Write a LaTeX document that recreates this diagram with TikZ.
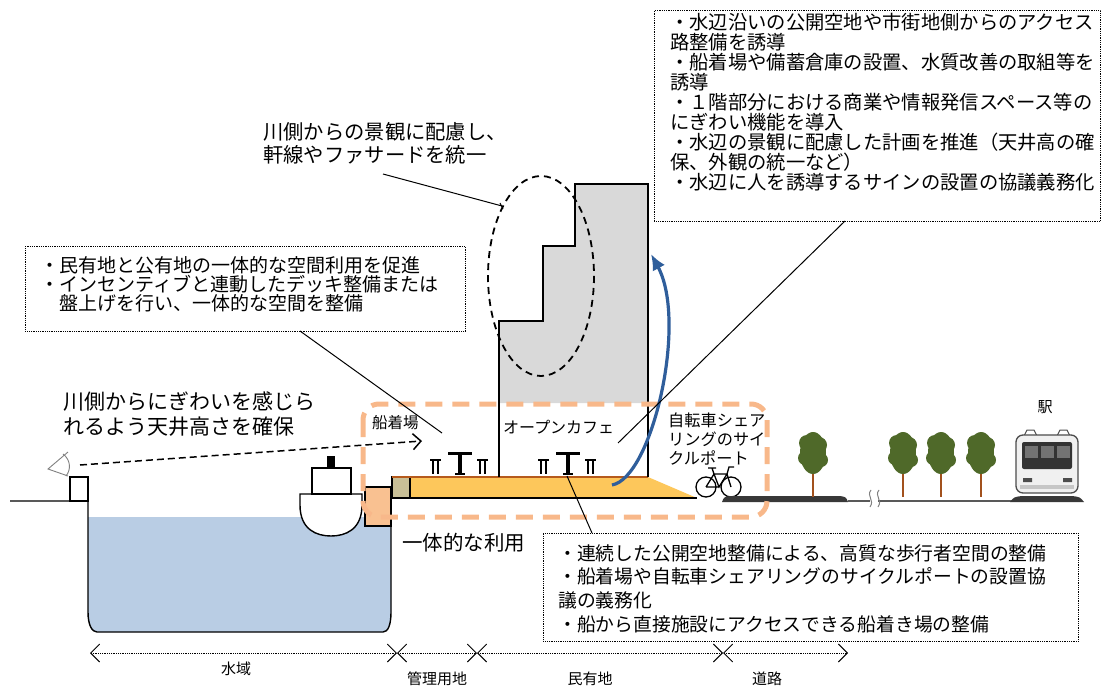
\documentclass[tikz,border=0pt]{standalone}
\usepackage{fontspec}
\setmainfont{Noto Sans CJK JP}
\usepackage{xcolor}
\usepackage{tikz}
\usetikzlibrary{arrows.meta}

\definecolor{watercol}{HTML}{B9CDE4}
\definecolor{peach}{HTML}{F9C191}
\definecolor{dashpeach}{HTML}{F8B88A}
\definecolor{deckyel}{HTML}{FDC75B}
\definecolor{decktan}{HTML}{C9C097}
\definecolor{deckrim}{HTML}{B65A1C}
\definecolor{bldgray}{HTML}{D9D9D9}
\definecolor{arcblue}{HTML}{2F5E9B}
\definecolor{leafgreen}{HTML}{4F6929}
\definecolor{trunkbrown}{HTML}{A2511D}
\definecolor{roadgray}{HTML}{383838}

\tikzset{
  note/.style={draw, densely dotted, line width=0.8pt, inner sep=0pt, anchor=north west},
  txt/.style={inner sep=0pt, anchor=west, align=left},
  leader/.style={line width=1pt},
  outline/.style={line width=1.4pt},
  barb/.tip={Straight Barb[length=9pt,width=18pt,line width=0.9pt]},
  dimline/.style={densely dotted, line width=0.8pt, barb-barb},
}

\begin{document}
\begin{tikzpicture}[x=1pt,y=-1pt]
\useasboundingbox (0,0) rectangle (1101,688);

% water basin
\fill[watercol] (88,517) -- (88,612) .. controls (88,625) and (92,632) .. (97,632)
  -- (383,632) .. controls (388,632) and (391,625) .. (391,612) -- (391,517) -- cycle;
\draw[outline] (10,501) -- (88,501) -- (88,612) .. controls (88,625) and (92,632) .. (97,632)
  -- (383,632) .. controls (388,632) and (391,625) .. (391,612) -- (391,526);
\draw[outline,fill=white] (70,477) rectangle (88,501);

% eye on the far bank
\draw[gray,line width=0.9pt] (68,452) -- (48,469) -- (68,476);
\draw[gray,line width=0.9pt] (63,454) .. controls (71,460) and (71,470) .. (66,476);

% boat
\draw[outline,fill=white] (300,494) -- (362,494) -- (362,505)
  .. controls (362,530) and (345,536) .. (331,536)
  .. controls (317,536) and (300,530) .. (300,505) -- cycle;
\draw[outline,fill=white] (312,468) rectangle (351,494);
\fill[black] (327,456) rectangle (335,468);
\draw[outline,fill=peach] (365,487) rectangle (391,526);

% deck
\fill[deckyel] (410,477) -- (648,477) -- (697,498) -- (410,498) -- cycle;
\draw[line width=1.2pt,fill=decktan] (392,477) rectangle (410,498);
\draw[line width=1.2pt] (392,498) -- (697,498);
\draw[deckrim,line width=2.5pt] (392,477) -- (648,477);

% building
\fill[bldgray] (499,403) -- (499,321) -- (543,321) -- (543,246) -- (575,246)
  -- (575,184) -- (648,184) -- (648,403) -- cycle;
\draw[outline] (499,477) -- (499,321) -- (543,321) -- (543,246) -- (575,246)
  -- (575,184) -- (648,184) -- (648,477);
\draw[dashed,dash pattern=on 7pt off 5pt,line width=1.8pt] (541,276) ellipse [x radius=53, y radius=100];

% tables and chairs
\foreach \cx in {430,538} {
  \draw[line width=2.2pt] (\cx,460) -- (\cx+11,460);
  \draw[line width=1.8pt] (\cx+3,460) -- (\cx+3,474) (\cx+8,460) -- (\cx+8,474);
  \draw[line width=3pt] (\cx+18,453) -- (\cx+42,453);
  \draw[line width=3.2pt] (\cx+30,453) -- (\cx+30,474);
  \draw[line width=2pt] (\cx+25,474) -- (\cx+35,474);
  \draw[line width=2.2pt] (\cx+47,460) -- (\cx+58,460);
  \draw[line width=1.8pt] (\cx+50,460) -- (\cx+50,474) (\cx+55,460) -- (\cx+55,474);
}

% bicycle
\draw[line width=1.3pt] (706,487) circle [radius=10] (731,487) circle [radius=10];
\draw[line width=1.3pt] (706,487) -- (714,474) -- (727,474) -- (731,487)
  (714,474) -- (719,487) -- (727,474) (706,487) -- (719,487)
  (714,474) -- (712,468) (708,468) -- (716,468)
  (727,474) -- (729,467) -- (734,467);

% ground on the town side
\fill[roadgray] (722,502) .. controls (724,497) .. (730,496) -- (840,496)
  .. controls (846,497) .. (848,502) -- cycle;
\draw[gray!70!black,line width=1.2pt] (848,501) -- (870,501) (878,501) -- (1012,501);
\draw[gray,line width=1pt] (871,490) .. controls (866,496) and (875,500) .. (870,507)
  (879,490) .. controls (874,496) and (883,500) .. (878,507);
\fill[roadgray] (1010,502) .. controls (1014,497) .. (1022,496) -- (1072,496)
  .. controls (1080,497) .. (1084,502) -- cycle;

% trees
\foreach \tx in {813,903,941,981} {
  \draw[trunkbrown,line width=2.6pt] (\tx,470) -- (\tx,497);
  \fill[leafgreen] (\tx,453) ellipse [x radius=13, y radius=21];
  \fill[leafgreen] (\tx-6,443) circle [radius=8] (\tx+6,445) circle [radius=8]
    (\tx-8,458) circle [radius=7] (\tx+8,460) circle [radius=7];
}

% train
\draw[gray!60!black,line width=1pt] (1024,436) -- (1027,430) -- (1034,430) -- (1037,436)
  (1057,436) -- (1060,430) -- (1067,430) -- (1070,436);
\draw[fill=gray!12,draw=gray!60!black,line width=1.3pt,rounded corners=7pt] (1016,435) rectangle (1078,493);
\fill[black!80,rounded corners=2pt] (1022,442) rectangle (1072,469);
\foreach \px in {1025,1041,1057} \fill[black!55] (\px,446) rectangle (\px+13,458);
\fill[black!70] (1023,478) rectangle (1032,482) (1063,478) rectangle (1072,482);
\fill[gray!45] (1020,485) rectangle (1074,489);

% site boundary of shared use
\draw[dashpeach,line width=5pt,dash pattern=on 17pt off 10pt,rounded corners=16pt] (363,404) rectangle (767,517);

% route into the building
\draw[arcblue,line width=3.2pt,-{Latex[length=16pt,width=14pt]}] (612,485) .. controls (652,478) and (688,322) .. (651,254);

% sight line
\draw[dashed,dash pattern=on 7pt off 4pt,line width=1.5pt,-{Straight Barb[length=8pt,width=16pt,line width=1.5pt]}] (80,465) -- (422,441);

% notes
\node[note, minimum width=446pt, minimum height=211pt] (rbox) at (654,10) {};
\node[txt, font=\fontsize{19.3}{20}\selectfont] (rtext) at (670,102) {・水辺沿いの公開空地や市街地側からのアクセス\\路整備を誘導\\・船着場や備蓄倉庫の設置、水質改善の取組等を\\誘導\\・１階部分における商業や情報発信スペース等の\\にぎわい機能を導入\\・水辺の景観に配慮した計画を推進（天井高の確\\保、外観の統一など）\\・水辺に人を誘導するサインの設置の協議義務化};

\node[note, minimum width=440pt, minimum height=85pt] (lbox) at (25,246) {};
\node[txt, font=\fontsize{19}{19}\selectfont] (ltext) at (40,284) {・民有地と公有地の一体的な空間利用を促進\\・インセンティブと連動したデッキ整備または\\　盤上げを行い、一体的な空間を整備};

\node[note, minimum width=535pt, minimum height=108pt] (bbox) at (543,533) {};
\node[txt, font=\fontsize{18.8}{23.7}\selectfont] (btext) at (558,588.5) {・連続した公開空地整備による、高質な歩行者空間の整備\\・船着場や自転車シェアリングのサイクルポートの設置協\\議の義務化\\・船から直接施設にアクセスできる船着き場の整備};

% labels
\node[txt, font=\fontsize{20.3}{23}\selectfont] (viewtxt) at (263,143.5) {川側からの景観に配慮し、\\軒線やファサードを統一};
\node[txt, font=\fontsize{21}{25}\selectfont] (ceiltxt) at (63,414.5) {川側からにぎわいを感じら\\れるよう天井高さを確保};
\node[txt, font=\fontsize{15.5}{18}\selectfont] (pier) at (372,423) {船着場};
\node[txt, font=\fontsize{16}{18}\selectfont] (cafe) at (503,427) {オープンカフェ};
\node[txt, font=\fontsize{16.2}{19}\selectfont] (cycle) at (668,439) {自転車シェア\\リングのサイ\\クルポート};
\node[txt, font=\fontsize{20.5}{23}\selectfont] (jointuse) at (402,543) {一体的な利用};
\node[font=\fontsize{15}{18}\selectfont, inner sep=0pt] (station) at (1045,407) {駅};

% leader lines
\coordinate (viewfoot) at (383,174);
\coordinate (viewtip) at (502,206);
\coordinate (lfoot) at (300,331);
\coordinate (ltip) at (442,433);
\coordinate (rfoot) at (845,221);
\coordinate (rtip) at (618,443);
\coordinate (bfoot) at (592,533);
\coordinate (btip) at (567,476);
\draw[leader] (viewfoot) -- (viewtip);
\draw[leader] (viewtip) ++(-2,-3) -- ++(3,6);
\draw[leader] (lfoot) -- (ltip);
\draw[leader] (rfoot) -- (rtip);
\draw[leader] (bfoot) -- (btip);

% zones along the section
\coordinate (d0) at (90,653);
\coordinate (d1) at (397,653);
\coordinate (d2) at (477,653);
\coordinate (d3) at (723,653);
\coordinate (d4) at (848,653);
\draw[dimline] (d0) -- (d1);
\draw[dimline] (d1) -- (d2);
\draw[dimline] (d2) -- (d3);
\draw[dimline] (d3) -- (d4);
\node[font=\fontsize{15}{18}\selectfont, inner sep=0pt] (water) at (236,669) {水域};
\node[font=\fontsize{15}{18}\selectfont, inner sep=0pt] (mgmt) at (437,679) {管理用地};
\node[font=\fontsize{15}{18}\selectfont, inner sep=0pt] (private) at (590,679) {民有地};
\node[font=\fontsize{15}{18}\selectfont, inner sep=0pt] (road) at (767,679) {道路};
\end{tikzpicture}
\end{document}
